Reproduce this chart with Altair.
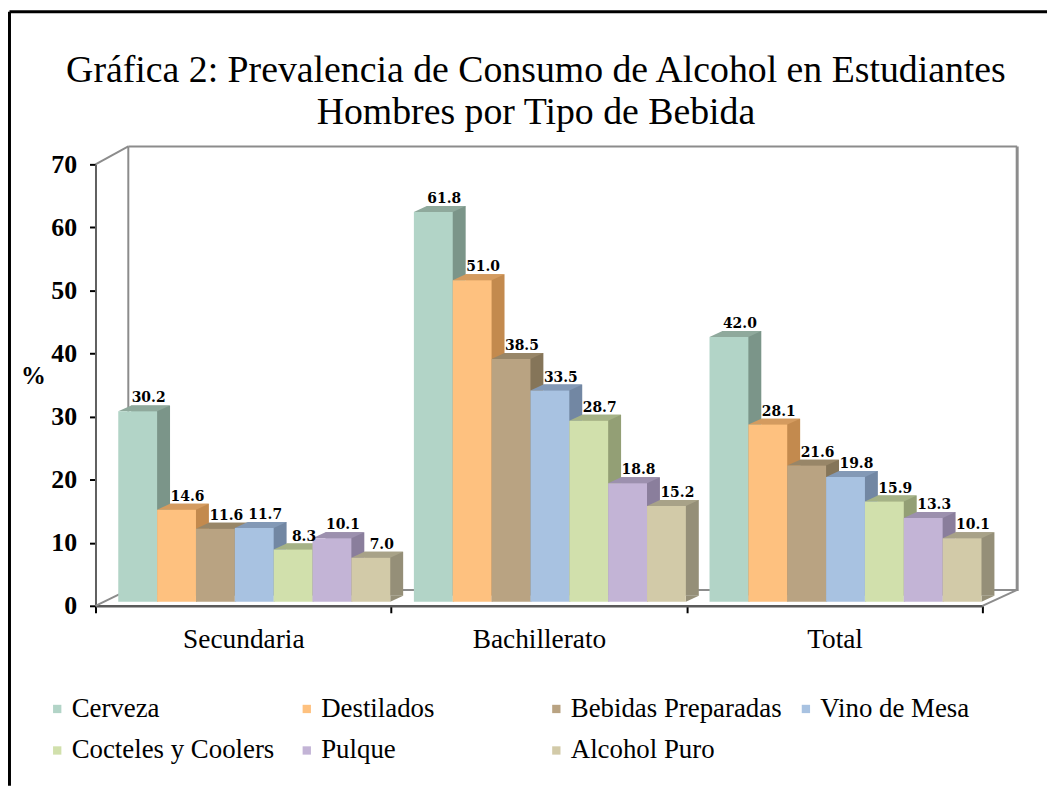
import altair as alt
import pandas as pd

# ---------------- data ----------------
title_lines = ["Gráfica 2: Prevalencia de Consumo de Alcohol en Estudiantes",
               "Hombres por Tipo de Bebida"]
niveles = ["Secundaria", "Bachillerato", "Total"]
bebidas = ["Cerveza", "Destilados", "Bebidas Preparadas", "Vino de Mesa",
           "Cocteles y Coolers", "Pulque", "Alcohol Puro"]
secundaria = [30.2, 14.6, 11.6, 11.7, 8.3, 10.1, 7.0]
bachillerato = [61.8, 51.0, 38.5, 33.5, 28.7, 18.8, 15.2]
total = [42.0, 28.1, 21.6, 19.8, 15.9, 13.3, 10.1]
y_ticks = [0, 10, 20, 30, 40, 50, 60, 70]

front_colors = ["#b2d4c7", "#fec17f", "#b9a382", "#a8c2e1", "#d1e0ac", "#c3b4d6", "#d2caa8"]
side_colors = ["#7b9589", "#c38a4e", "#857559", "#7287a3", "#939f75", "#8a7e9c", "#958f78"]
top_colors = ["#8fa99c", "#d49b5f", "#988668", "#8399b6", "#a5b286", "#9c90ae", "#a8a288"]

rows = []
for nivel, vals in zip(niveles, [secundaria, bachillerato, total]):
    for b, v in zip(bebidas, vals):
        rows.append({"nivel": nivel, "bebida": b, "valor": v})
df = pd.DataFrame(rows)
one = pd.DataFrame({"k": [0]})

# ---------------- geometry ----------------
W, H = 892, 444
DX, DY = 11, 4      # front face of bars set slightly back into the floor
SX, SY = 13, 6      # bar depth
HALF = 19.55        # half bar width (px), used only for the 3D cap shapes
SERIF = "Liberation Serif"


def xs(shift):
    return alt.Scale(domain=niveles, range=[shift, W + shift],
                     paddingInner=0.08, paddingOuter=0.04)


def ys(shift):
    return alt.Scale(domain=[0, 70], range=[H - shift, -shift], nice=False, zero=True)


def xoff_band():
    return alt.XOffset("bebida:N", scale=alt.Scale(type="band", domain=bebidas,
                                                   paddingInner=0, paddingOuter=0))


def xoff_point():
    # point scale with half-step padding -> positions at bar centres
    return alt.XOffset("bebida:N", scale=alt.Scale(type="point", domain=bebidas, padding=0.5))


def col(rng, legend=None):
    return alt.Color("bebida:N", scale=alt.Scale(domain=bebidas, range=rng), legend=legend)


# axes layer (invisible marks, carries the axes)
axes = alt.Chart(df).mark_point(opacity=0).encode(
    x=alt.X("nivel:N", scale=alt.Scale(domain=niveles, range=[0, W], paddingInner=0, paddingOuter=0),
            axis=alt.Axis(title=None, tickBand="extent", labelAngle=0, labelFont=SERIF,
                          labelFontSize=27.5, labelColor="black", labelPadding=13, tickSize=7,
                          tickColor="black", tickWidth=2, domainColor="#5a5a5a", domainWidth=2.5,
                          grid=False)),
    y=alt.Y("valor:Q", scale=alt.Scale(domain=[0, 70], range=[H, 0], nice=False),
            axis=alt.Axis(values=y_ticks, format="d", title="%", titleAngle=0, titleX=-63, titleY=212,
                          titleAlign="center", titleBaseline="middle", titleFont=SERIF,
                          titleFontSize=25, titleFontWeight="bold", titleColor="black",
                          labelFont=SERIF, labelFontSize=26, labelFontWeight="bold",
                          labelColor="black", labelPadding=13, tickSize=6, tickColor="black",
                          tickWidth=2, domainColor="#606060", domainWidth=2, grid=False)),
)

# 3D wall / floor lines
def seg(x, y, x2, y2, color="#8c8c8c", w=2):
    return alt.Chart(one).mark_rule(color=color, strokeWidth=w).encode(
        x=alt.value(x), y=alt.value(y), x2=alt.value(x2), y2=alt.value(y2))

decor = [
    seg(0, 0, 33, -18),
    seg(33, -18, 33, 428),
    seg(33, -18, 927, -18),
    seg(927, -18, 927, 429, w=3),
    seg(33, 428, 927, 428),
    seg(892, 444, 927, 428),
    seg(0, 444, 33, 428),
]

border = [
    seg(-86.5, -153.5, 957, -153.5, color="black", w=3),
    seg(-86.5, -153.5, -86.5, 625, color="black", w=3),
]

side = alt.Chart(df).mark_bar(strokeWidth=0).encode(
    x=alt.X("nivel:N", scale=xs(DX + SX), axis=None),
    xOffset=xoff_band(),
    y=alt.Y("valor:Q", scale=ys(DY + SY), axis=None),
    color=col(side_colors),
)

tri = alt.Chart(df).mark_point(
    shape=f"M{HALF},0L{HALF + SX},{-SY}L{HALF},{-SY}Z", size=4, filled=True, opacity=1, strokeWidth=0
).encode(
    x=alt.X("nivel:N", scale=xs(DX), axis=None),
    xOffset=xoff_point(),
    y=alt.YDatum(0, type="quantitative", scale=ys(DY), axis=None),
    color=col(side_colors),
)

tops = alt.Chart(df).mark_point(
    shape=f"M{-HALF},0L{HALF},0L{HALF + SX},{-SY}L{-HALF + SX},{-SY}Z",
    size=4, filled=True, opacity=1, strokeWidth=0
).encode(
    x=alt.X("nivel:N", scale=xs(DX), axis=None),
    xOffset=xoff_point(),
    y=alt.Y("valor:Q", scale=ys(DY), axis=None),
    color=col(top_colors),
)

front = alt.Chart(df).mark_bar(strokeWidth=0).encode(
    x=alt.X("nivel:N", scale=xs(DX), axis=None),
    xOffset=xoff_band(),
    y=alt.Y("valor:Q", scale=ys(DY), axis=None),
    color=col(front_colors, alt.Legend(
        title=None, orient="none", legendX=-52, legendY=534, direction="horizontal",
        columns=4, gridAlign="all", columnPadding=10, rowPadding=14, symbolType="square",
        symbolSize=70, symbolStrokeWidth=0, labelFont=SERIF, labelFontSize=27,
        labelColor="black", labelOffset=1, labelLimit=400, padding=0)),
)

labels = alt.Chart(df).mark_text(
    dx=11, dy=-9, baseline="alphabetic", align="center", font="DejaVu Serif",
    fontWeight="bold", fontSize=14, color="black"
).encode(
    x=alt.X("nivel:N", scale=xs(DX), axis=None),
    xOffset=xoff_point(),
    y=alt.Y("valor:Q", scale=ys(DY), axis=None),
    text=alt.Text("valor:Q", format=".1f"),
)

title = alt.Chart(one).mark_text(
    text=title_lines, font=SERIF, fontSize=38, lineHeight=42, align="center",
    baseline="alphabetic", color="black"
).encode(x=alt.value(443), y=alt.value(-83))

chart = alt.layer(
    *border, *decor, axes, side, tri, tops, front, labels, title
).resolve_scale(
    x="independent", y="independent", color="independent", xOffset="independent"
).properties(
    width=W, height=H, padding=0, background="white"
).configure_view(strokeWidth=0)

chart.save("out.html", embed_options={"renderer": "svg", "actions": False})
